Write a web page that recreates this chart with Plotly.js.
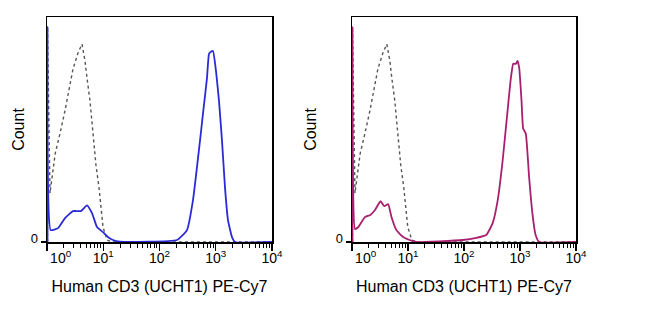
<!DOCTYPE html>
<html>
<head>
<meta charset="utf-8">
<script src="https://cdn.plot.ly/plotly-3.0.1.min.js"></script>
<style>html,body{margin:0;padding:0;background:#fff;}#chart{width:650px;height:331px;}</style>
</head>
<body>
<div id="chart"></div>
<script>
// Isotype control (grey dotted), same in both panels
const isoX = [1.02, 1.02, 1.13, 1.40, 1.70, 2.09, 2.90, 3.15, 3.56, 4.19, 4.74, 5.14, 5.81, 6.58, 7.43, 8.40, 9.90, 11.7, 14.3, 10000];
const isoY = [0, 96, 21.8, 39.6, 48.4, 58.7, 77.3, 80.0, 84.4, 88.4, 80.9, 73.3, 63.1, 48.4, 34.2, 24.4, 6.7, 0.9, 0, 0];

// Left panel: CD3 PE-Cy7 (blue)
const blueX = [1.02, 1.02, 1.16, 1.57, 2.09, 2.90, 4.02, 5.14, 6.31, 7.74, 9.90, 12.1, 14.9, 19.9, 205, 308, 394, 525, 593, 699, 758, 824, 894, 1010, 1142, 1291, 1460, 1650, 1945, 2198, 10000];
const blueY = [0, 96, 5.3, 6.2, 10.7, 13.8, 13.8, 16.4, 12.9, 6.7, 4.4, 2.2, 0.9, 0.2, 0.9, 5.3, 18.7, 45.3, 57.3, 73.3, 84.0, 85.0, 85.3, 76.4, 63.0, 45.3, 24.4, 9.8, 2.2, 0, 0];

// Right panel: CD3 PE-Cy7 (magenta)
const magX = [1.02, 1.02, 1.13, 1.30, 1.70, 2.09, 2.56, 3.23, 3.76, 4.42, 5.08, 6.23, 8.19, 10.7, 14.1, 95, 165, 249, 325, 400, 490, 600, 688, 758, 845, 902, 968, 1065, 1138, 1270, 1455, 1663, 1900, 2200, 10000];
const magY = [0, 96, 5.8, 6.7, 11.1, 12.0, 14.2, 18.2, 16.0, 16.9, 11.1, 5.3, 2.2, 0.9, 0, 0.9, 1.8, 3.1, 8.4, 18.7, 36.4, 58.7, 73.3, 79.6, 79.6, 80.9, 77.8, 63.1, 50.7, 48.4, 28.9, 12.9, 3.1, 0, 0];

const tickVals = [1, 10, 100, 1000, 10000];
const tickText = ['&nbsp;&nbsp;&nbsp;&nbsp;&nbsp;&nbsp;&nbsp;10<sup>0</sup>', '10<sup>1</sup>', '10<sup>2</sup>', '10<sup>3</sup>', '10<sup>4</sup>'];
const minorVals = [];
for (let d = 1; d < 10000; d *= 10) for (let k = 2; k <= 9; k++) minorVals.push(d * k);
const xTitle = 'Human CD3 (UCHT1) PE-Cy7';
const yTitle = 'Count';

const font = {family: 'Liberation Sans, Arial, sans-serif', color: '#000'};

const traces = [
  {x: isoX, y: isoY, xaxis: 'x', yaxis: 'y', mode: 'lines', line: {color: '#555', width: 1.4, dash: 'dot'}, hoverinfo: 'skip'},
  {x: blueX, y: blueY, xaxis: 'x', yaxis: 'y', mode: 'lines', line: {color: '#2b2bd6', width: 1.8, shape: 'spline', smoothing: 0.4}, hoverinfo: 'skip'},
  {x: isoX, y: isoY, xaxis: 'x2', yaxis: 'y2', mode: 'lines', line: {color: '#555', width: 1.4, dash: 'dot'}, hoverinfo: 'skip'},
  {x: magX, y: magY, xaxis: 'x2', yaxis: 'y2', mode: 'lines', line: {color: '#a81f6e', width: 1.8, shape: 'spline', smoothing: 0.4}, hoverinfo: 'skip'}
];

function xax(dom) {
  return {
    domain: dom, type: 'log', range: [0, 4],
    showline: true, linecolor: '#000', linewidth: 1.5, mirror: true,
    showgrid: false, zeroline: false,
    tickmode: 'array', tickvals: tickVals, ticktext: tickText,
    ticks: 'outside', ticklen: 7, tickwidth: 1.2, tickcolor: '#000',
    ticklabelstandoff: -4,
    minor: {tickmode: 'array', tickvals: minorVals, ticks: 'outside', ticklen: 4, tickwidth: 1, tickcolor: '#000', showgrid: false},
    tickfont: Object.assign({size: 14}, font),
    title: {text: xTitle, font: Object.assign({size: 16}, font), standoff: 15},
    automargin: false
  };
}
function yax(dom, standoff) {
  return {
    domain: dom, range: [0, 100.5],
    showline: true, linecolor: '#000', linewidth: 1.5, mirror: true,
    showgrid: false, zeroline: false,
    tickmode: 'array', tickvals: [0], ticktext: ['0'],
    ticks: 'outside', ticklen: 5, tickwidth: 1.2, tickcolor: '#000',
    ticklabelshift: -4,
    tickfont: Object.assign({size: 13}, font),
    title: {text: yTitle, font: Object.assign({size: 16}, font), standoff: standoff},
    automargin: false
  };
}

const yd = [1 - 242 / 331, 1 - 17 / 331];
const layout = {
  width: 650, height: 331,
  margin: {l: 0, r: 0, t: 0, b: 0},
  paper_bgcolor: '#fff', plot_bgcolor: '#fff',
  showlegend: false,
  xaxis: Object.assign(xax([47 / 650, 272 / 650]), {anchor: 'y'}),
  yaxis: Object.assign(yax(yd, 2), {anchor: 'x'}),
  xaxis2: Object.assign(xax([352 / 650, 576 / 650]), {anchor: 'y2'}),
  yaxis2: Object.assign(yax(yd, 15), {anchor: 'x2'})
};

Plotly.newPlot('chart', traces, layout, {staticPlot: true, displayModeBar: false});
</script>
</body>
</html>
